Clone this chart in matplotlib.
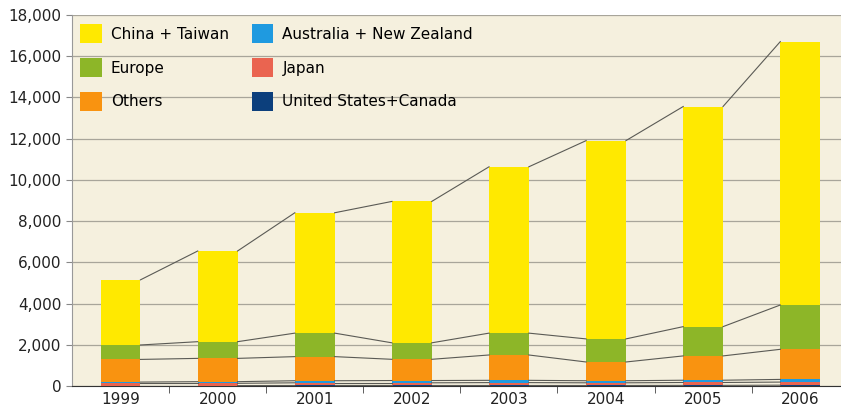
import numpy as np
import matplotlib.pyplot as plt
from matplotlib.patches import Patch
from matplotlib.ticker import FuncFormatter

years = ["1999", "2000", "2001", "2002", "2003", "2004", "2005", "2006"]

# stacked from the bottom up
us_canada = [20, 20, 25, 25, 25, 25, 30, 40]
japan = [110, 110, 130, 130, 140, 130, 140, 150]
australia = [60, 80, 100, 110, 110, 100, 110, 130]
others = [1100, 1130, 1170, 1030, 1230, 910, 1180, 1460]
europe = [700, 810, 1140, 800, 1060, 1120, 1420, 2150]
china_taiwan = [3160, 4400, 5840, 6860, 8070, 9620, 10680, 12780]

series = [
    ("United States+Canada", us_canada, "#0c3f7c"),
    ("Japan", japan, "#ea6450"),
    ("Australia + New Zealand", australia, "#1f9ae0"),
    ("Others", others, "#f99310"),
    ("Europe", europe, "#8db628"),
    ("China + Taiwan", china_taiwan, "#ffe900"),
]

plt.rcParams['font.family'] = ['DejaVu Sans']

fig = plt.figure(figsize=(8.41, 4.07), dpi=100)
ax = fig.add_axes([72 / 841, 21 / 407, 1 - 72 / 841, 371 / 407])
ax.set_facecolor("#f5f0de")

x = np.arange(len(years))
width = 0.41
bottom = np.zeros(len(years))
for name, vals, color in series:
    vals = np.array(vals, dtype=float)
    ax.bar(x, vals, width, bottom=bottom, color=color, zorder=3, linewidth=0)
    bottom = bottom + vals
    # connector lines between neighbouring bars at each stack level
    for i in range(len(years) - 1):
        ax.plot([x[i] + width / 2, x[i + 1] - width / 2], [bottom[i], bottom[i + 1]],
                color="#5a5a55", lw=0.8, zorder=4)

ax.set_ylim(0, 18000)
ax.set_xlim(-0.5, 7.42)
ax.set_yticks(np.arange(0, 18001, 2000))
ax.yaxis.set_major_formatter(FuncFormatter(lambda v, p: f"{int(v):,}"))
ax.grid(axis="y", color="#a8a59a", lw=0.9, zorder=1)

ax.set_xticks(x)
ax.set_xticklabels(years)
ax.set_xticks(np.arange(0.5, 7.5, 1), minor=True)
ax.tick_params(axis="x", which="major", length=0, labelsize=11, pad=4, colors="#222222")
ax.tick_params(axis="x", which="minor", length=5, color="#444444")
ax.tick_params(axis="y", length=4, labelsize=11, colors="#888888", labelcolor="#222222")

for s in ["right", "top"]:
    ax.spines[s].set_visible(False)
ax.spines["left"].set_color("#999999")
ax.spines["bottom"].set_color("#333333")

order = ["China + Taiwan", "Europe", "Others",
         "Australia + New Zealand", "Japan", "United States+Canada"]
colors = {n: c for n, _, c in series}
handles = [Patch(facecolor=colors[n], edgecolor="none", label=n) for n in order]
ax.legend(handles=handles, ncol=2, loc="upper left", frameon=False,
          fontsize=11, handlelength=1.4, handleheight=1.5, handletextpad=0.6,
          labelspacing=1.0, columnspacing=1.5, bbox_to_anchor=(-0.007, 1.012))

fig.savefig("out.png", dpi=100, facecolor="white")
